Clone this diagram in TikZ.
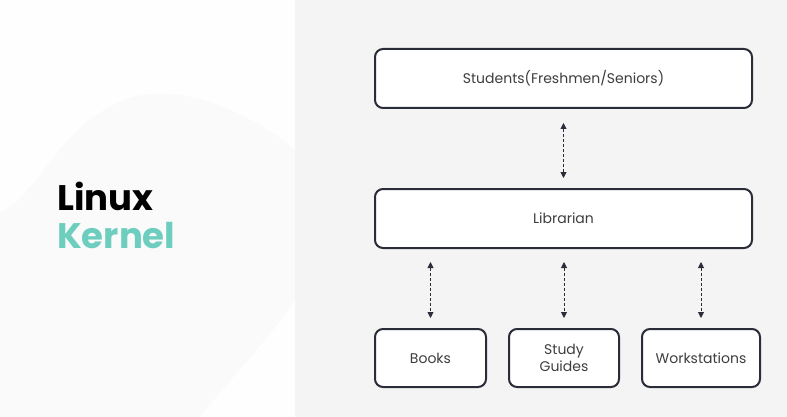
\documentclass[tikz,border=0pt]{standalone}
\usepackage{fontspec}
\setmainfont{Poppins}
\usetikzlibrary{arrows.meta}

\definecolor{panel}{HTML}{F4F4F5}
\definecolor{leftbg}{HTML}{FEFEFE}
\definecolor{blob}{HTML}{FAFAFA}
\definecolor{boxline}{HTML}{2A2D38}
\definecolor{boxtext}{HTML}{3E3E3E}
\definecolor{teal}{HTML}{6DCDBE}

\tikzset{
    box/.style={draw=boxline, line width=2pt, rounded corners=8pt, fill=white,
        text=boxtext, font=\fontsize{14}{17}\selectfont, align=center,
        inner sep=0pt},
    wide/.style={box, minimum width=377pt, minimum height=59pt},
    small/.style={box, minimum height=58pt},
    link/.style={densely dashed, line width=0.9pt, draw=boxline,
        {Triangle[length=6pt,width=6pt]}-{Triangle[length=6pt,width=6pt]}},
    title/.style={anchor=base west, inner sep=0pt,
        font=\fontsize{35.5}{40}\selectfont\bfseries}
}

\begin{document}
\begin{tikzpicture}[x=1pt, y=-1pt]
        % pozadí
        \fill[leftbg] (0,0) rectangle (295,417);
        \fill[panel] (295,0) rectangle (787,417);
        \fill[blob] (0,213) .. controls (40,195) and (60,120) .. (133,97)
        .. controls (190,82) and (260,120) .. (295,150)
        -- (295,300) .. controls (260,350) and (220,390) .. (200,417)
        -- (0,417) -- cycle;
        \useasboundingbox (0,0) rectangle (787,417);

        % nadpis
        \node[title] (linux) at (57,210) {Linux};
        \node[title, text=teal] (kernel) at (57,248) {Kernel};

        % bloky
        \node[wide] (students) at (563.5,78.5) {Students(Freshmen/Seniors)};
        \node[wide] (librarian) at (563.5,218.5) {Librarian};
        \node[small, minimum width=111pt] (books) at (430.5,358) {Books};
        \node[small, minimum width=110pt] (guides) at (564,358) {Study\\Guides};
        \node[small, minimum width=118pt] (stations) at (701,358) {Workstations};

        % šipky
        \draw[link, shorten <=14pt, shorten >=10pt] (students.south) -- (librarian.north);
        \draw[link, shorten <=13pt, shorten >=10pt] (librarian.south -| books.north) -- (books.north);
        \draw[link, shorten <=13pt, shorten >=10pt] (librarian.south -| guides.north) -- (guides.north);
        \draw[link, shorten <=13pt, shorten >=10pt] (librarian.south -| stations.north) -- (stations.north);
    \end{tikzpicture}
\end{document}
